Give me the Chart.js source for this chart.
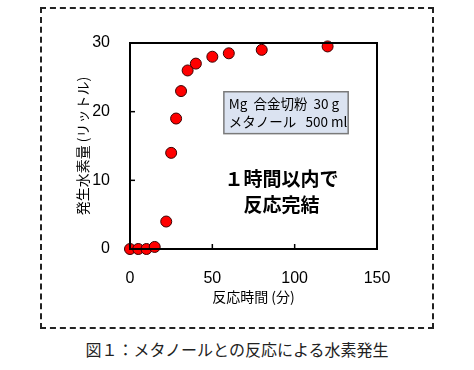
<!DOCTYPE html>
<html>
<head>
<meta charset="utf-8">
<script src="https://cdn.jsdelivr.net/npm/chart.js@4"></script>
<style>
  body { margin: 0; width: 474px; height: 370px; background: #fff; position: relative; overflow: hidden; }
  #frame { position: absolute; left: 40px; top: 7px; width: 390px; height: 318px; border: 2px dashed #222; }
  #wrap { position: absolute; left: 0; top: 0; width: 474px; height: 330px; }
  #caption { position: absolute; left: 0; width: 474px; top: 337px; text-align: center;
    font-family: "Noto Sans CJK JP"; font-size: 16px; color: #222; }
</style>
</head>
<body>
<div id="frame"></div>
<div id="wrap"><canvas id="h2Chart"></canvas></div>
<div id="caption">図１：メタノールとの反応による水素発生</div>
<script>
// reaction time (min) and hydrogen volume (L)
const times = [0, 5, 10, 15, 22, 25, 28, 31, 35, 40, 50, 60, 80, 120];
const hydrogen = [0, 0, 0, 0.3, 4, 14, 19, 23, 26, 27, 28, 28.5, 29, 29.5];
const xTicks = [0, 50, 100, 150];
const yTicks = [0, 10, 20, 30];
const noteLines = ['Mg  合金切粉  30 g', 'メタノール   500 ml'];
const bigText = ['１時間以内で', '反応完結'];

document.addEventListener('DOMContentLoaded', () => {
    const ctx = document.getElementById('h2Chart').getContext('2d');

    // frame, inward ticks and the text boxes
    const decor = {
        id: 'decor',
        afterDraw(chart) {
            const { ctx, chartArea: a, scales: { x, y } } = chart;
            ctx.save();
            ctx.strokeStyle = '#000';
            ctx.lineWidth = 2;
            ctx.strokeRect(a.left, a.top, a.right - a.left, a.bottom - a.top);
            ctx.lineWidth = 1.5;
            xTicks.slice(1, -1).forEach(v => {
                const px = x.getPixelForValue(v);
                ctx.beginPath(); ctx.moveTo(px, a.bottom); ctx.lineTo(px, a.bottom - 5); ctx.stroke();
            });
            yTicks.slice(1, -1).forEach(v => {
                const py = y.getPixelForValue(v);
                ctx.beginPath(); ctx.moveTo(a.left, py); ctx.lineTo(a.left + 5, py); ctx.stroke();
            });

            // note box
            const bx0 = x.getPixelForValue(57), bx1 = x.getPixelForValue(132.5);
            const by0 = y.getPixelForValue(22.9), by1 = y.getPixelForValue(16.8);
            ctx.fillStyle = '#dbe3f1';
            ctx.fillRect(bx0, by0, bx1 - bx0, by1 - by0);
            ctx.strokeStyle = '#7a7a7a';
            ctx.lineWidth = 1.5;
            ctx.strokeRect(bx0, by0, bx1 - bx0, by1 - by0);
            ctx.fillStyle = '#000';
            ctx.font = '13.5px "Noto Sans CJK JP"';
            ctx.textBaseline = 'middle';
            ctx.textAlign = 'left';
            ctx.fillText(noteLines[0], bx0 + 5, by0 + 12);
            ctx.fillText(noteLines[1], bx0 + 5, by0 + 30);

            // big message
            ctx.font = 'bold 19px "Noto Sans CJK JP"';
            ctx.textAlign = 'center';
            ctx.fillText(bigText[0], x.getPixelForValue(92), y.getPixelForValue(10.2));
            ctx.fillText(bigText[1], x.getPixelForValue(92), y.getPixelForValue(6.5));
            ctx.restore();
        }
    };

    new Chart(ctx, {
        type: 'scatter',
        data: {
            datasets: [{
                data: times.map((t, i) => ({ x: t, y: hydrogen[i] })),
                backgroundColor: '#ff0000',
                borderColor: '#3a0000',
                borderWidth: 1,
                pointRadius: 5.5,
                clip: false
            }]
        },
        options: {
            responsive: true,
            maintainAspectRatio: false,
            animation: false,
            layout: { padding: { left: 68, right: 97, top: 43, bottom: 21 } },
            plugins: { legend: { display: false }, tooltip: { enabled: false } },
            scales: {
                x: {
                    type: 'linear', min: 0, max: 150,
                    afterBuildTicks: s => { s.ticks = xTicks.map(v => ({ value: v })); },
                    afterFit: s => { s.height = 60; },
                    grid: { display: false },
                    border: { display: false },
                    ticks: { color: '#000', padding: 12, font: { family: 'Liberation Sans', size: 16 } },
                    title: { display: true, text: '反応時間 (分)', color: '#000', padding: { top: 5 },
                        font: { family: 'Noto Sans CJK JP', size: 14 } }
                },
                y: {
                    min: 0, max: 30,
                    afterBuildTicks: s => { s.ticks = yTicks.map(v => ({ value: v })); },
                    afterFit: s => { s.width = 62; },
                    grid: { display: false },
                    border: { display: false },
                    ticks: { color: '#000', padding: 12, font: { family: 'Liberation Sans', size: 16 } },
                    title: { display: true, text: '発生水素量 (リットル)', color: '#000', padding: { top: 6, bottom: 0 },
                        font: { family: 'Noto Sans CJK JP', size: 14 } }
                }
            }
        },
        plugins: [decor]
    });
});
</script>
</body>
</html>
